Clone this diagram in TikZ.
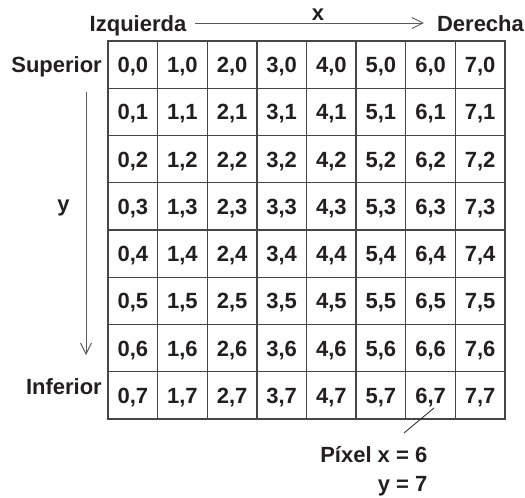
\documentclass[tikz,border=0pt]{standalone}
\usepackage{fontspec}
\setmainfont{Liberation Sans}
\usetikzlibrary{arrows.meta}
\definecolor{ink}{RGB}{35,31,32}
\definecolor{gridc}{RGB}{70,70,70}
\definecolor{arrc}{RGB}{90,90,90}
\tikzset{
  lbl/.style={font=\fontsize{22}{29}\selectfont\bfseries, text=ink, inner sep=0pt},
  cell/.style={draw=gridc, line width=1.4pt, minimum width=49.625pt, minimum height=47.25pt, inner sep=0pt, text=ink, text height=15.75pt, text depth=0pt, font=\fontsize{22}{29}\selectfont\bfseries},
  axis/.style={draw=arrc, line width=0.9pt, -{Straight Barb[length=11pt,width=11pt,line width=0.9pt]}},
  callout/.style={draw=ink, line width=0.8pt}
}
\begin{document}
\begin{tikzpicture}[x=1pt,y=-1pt]
\useasboundingbox (0,0) rectangle (525,498);
% grid cells
\foreach \i in {0,...,7}{
  \foreach \j in {0,...,7}{
    \node[cell] (c-\i-\j) at ({108+49.625*(\i+0.5)},{41+47.25*(\j+0.5)}) {\i,\j};
  }
}
% axis labels
\node[lbl, anchor=base, text height=16pt, text depth=0pt] (izq) at (138,31) {Izquierda};
\node[lbl, anchor=base, text height=16pt, text depth=0pt] (der) at (480.5,31) {Derecha};
\node[lbl, anchor=base] (xl) at (318,20) {x};
\draw[axis, shorten <=9pt, shorten >=13pt] (izq.east) -- (der.west);

\node[lbl, anchor=base east] (sup) at (102,72) {Superior};
\node[lbl, anchor=base east] (inf) at (102,394) {Inferior};
\node[lbl, anchor=base] (yl) at (63.5,211.5) {y};
\coordinate (ytop) at (86,92);
\coordinate (ybot) at (86,355);
\draw[axis] (ytop) -- (ybot);

% callout
\node[lbl, anchor=base east, align=right] (pix) at (427.5,491) {P\'{\i}xel x = 6\\y = 7};
\coordinate (cstart) at (434,408);
\coordinate (cend) at (404,433);
\draw[callout] (cstart) -- (cend);
\end{tikzpicture}
\end{document}
